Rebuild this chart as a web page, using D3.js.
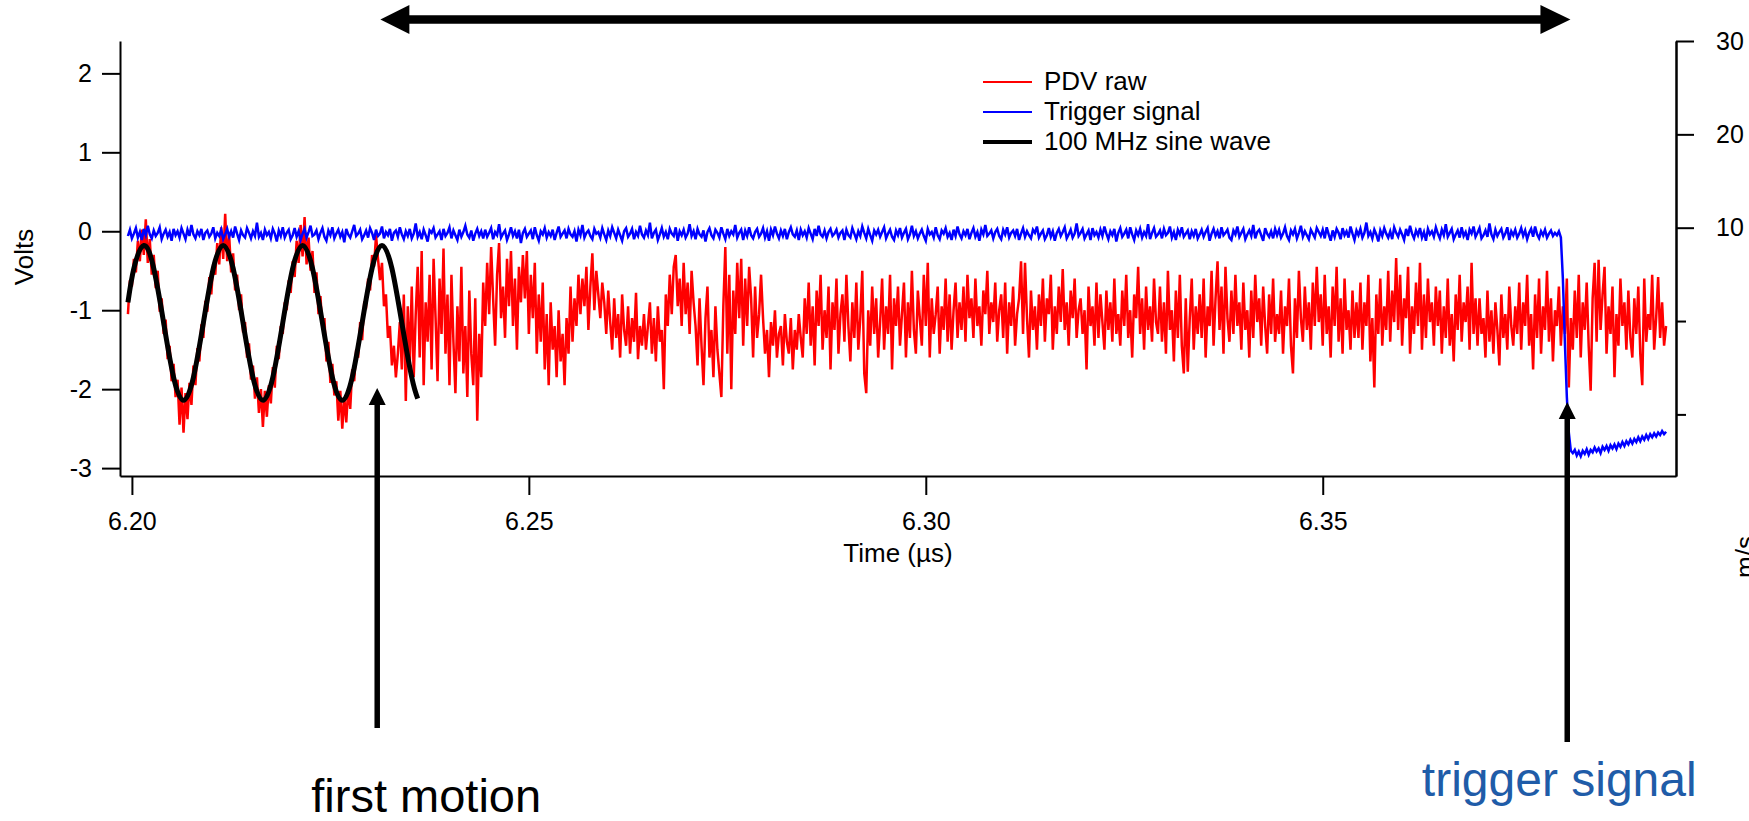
<!DOCTYPE html>
<html>
<head>
<meta charset="utf-8">
<script src="https://cdn.jsdelivr.net/npm/d3@7"></script>
<style>
  body { margin: 0; background: #fff; }
  text { font-family: "Liberation Sans", Arial, sans-serif; fill: #000; }
  .axis path, .axis line { stroke: #000; stroke-width: 2; }
  .axis text { font-size: 25px; }
</style>
</head>
<body>
<div id="chart"></div>
<script>
// PDV raw trace + trigger + fitted 100 MHz sine, Igor style plot

var svgWidth = 1749;
var svgHeight = 821;

// plot box (left axis, right axis, top, bottom axis)
var box = { left: 120, right: 1676, top: 41, bottom: 476 };

// ---- data ----
// time axis ticks (µs) and volt ticks
var timeTicks = [6.20, 6.25, 6.30, 6.35];
var voltTicks = [-3, -2, -1, 0, 1, 2];
var speedTicks = [30, 20, 10];
var speedMinorTicks = [0, -10];

// PDV raw (volts), sampled every 0.25 ns from 6.1995 µs
var redStart = 6.1995;
var redStep = 0.00025;
var redVolts = [
  -1.05,-0.62,-0.70,-0.35,-0.52,-0.12,-0.38,0.02,-0.30,0.15,-0.40,-0.10,-0.55,-0.30,-0.72,-0.50,-1.02,-0.85,-1.30,-1.12,
  -1.62,-1.45,-1.90,-1.68,-2.10,-1.88,-2.45,-1.98,-2.55,-2.05,-2.38,-1.92,-2.20,-1.70,-1.95,-1.48,-1.65,-1.18,-1.35,-0.88,
  -1.02,-0.58,-0.80,-0.40,-0.55,-0.15,-0.42,0.05,-0.35,0.22,-0.38,-0.05,-0.52,-0.28,-0.75,-0.55,-1.00,-0.80,-1.28,-1.15,
  -1.60,-1.42,-1.88,-1.70,-2.12,-1.85,-2.30,-2.00,-2.48,-2.02,-2.35,-1.95,-2.18,-1.72,-1.98,-1.45,-1.62,-1.20,-1.30,-0.90,
  -1.00,-0.62,-0.78,-0.38,-0.58,-0.12,-0.40,0.08,-0.32,0.18,-0.42,-0.08,-0.50,-0.25,-0.78,-0.52,-1.05,-0.82,-1.25,-1.10,
  -1.65,-1.40,-1.92,-1.68,-2.08,-1.90,-2.40,-2.02,-2.50,-2.10,-2.42,-1.98,-2.25,-1.75,-1.90,-1.50,-1.60,-1.15,-1.38,-0.92,
  -0.95,-0.60,-0.75,-0.30,-0.45,-0.05,-0.35,-0.62,-0.40,-0.95,-0.80,-1.35,-1.20,-1.70,-1.45,-1.85,-1.55,-1.15,-1.75,-0.80,
  -2.15,-0.95,-1.70,-0.70,-1.85,-1.05,-0.45,-1.60,-0.25,-1.95,-0.90,-1.40,-0.55,-1.75,-0.35,-1.10,-1.90,-0.60,-1.30,-0.22,
  -1.55,-0.80,-1.95,-0.55,-1.40,-2.05,-0.95,-1.65,-0.45,-1.80,-1.20,-2.10,-0.75,-1.55,-1.95,-0.85,-2.40,-1.30,-1.85,-0.65,
  -1.20,-0.40,-1.05,-0.20,-0.85,-1.45,-0.55,-0.15,-1.10,-0.70,-1.35,-0.35,-0.95,-0.25,-1.20,-0.60,-1.50,-0.45,-0.90,-0.30,
  -0.85,-0.25,-1.30,-0.55,-1.10,-0.40,-1.55,-0.80,-1.40,-0.65,-1.75,-1.05,-1.95,-0.90,-1.50,-1.20,-1.85,-1.00,-1.65,-1.30,
  -1.95,-1.10,-1.55,-0.70,-1.40,-0.85,-1.20,-0.55,-1.05,-0.60,-0.95,-0.45,-1.25,-0.70,-0.28,-1.00,-0.50,-0.80,-1.10,-0.65,
  -0.90,-1.30,-0.75,-1.15,-1.50,-0.85,-1.35,-1.05,-1.60,-0.80,-1.25,-1.45,-0.95,-1.55,-1.10,-1.40,-0.78,-1.62,-1.20,-1.45,
  -1.05,-1.50,-1.20,-0.90,-1.55,-1.10,-1.65,-0.95,-1.40,-1.25,-2.00,-0.80,-1.20,-0.55,-1.05,-0.45,-0.30,-0.95,-0.60,-1.20,
  -0.40,-1.05,-0.65,-1.30,-0.50,-0.90,-1.20,-1.70,-0.85,-1.45,-1.95,-1.10,-0.70,-1.60,-1.25,-1.85,-0.95,-1.50,-1.80,-2.10,
  -0.95,-0.20,-1.55,-0.55,-2.00,-0.75,-1.30,-0.40,-1.10,-0.35,-1.45,-0.60,-1.20,-0.45,-0.85,-1.60,-0.70,-1.35,-1.05,-0.55,
  -1.10,-1.55,-1.25,-1.85,-1.15,-1.45,-1.00,-1.60,-1.30,-1.20,-1.70,-1.05,-1.40,-1.55,-1.10,-1.75,-1.25,-1.50,-1.05,-1.35,
  -1.60,-0.85,-1.30,-0.65,-1.45,-0.95,-1.70,-0.75,-1.20,-0.55,-1.50,-1.00,-1.35,-0.70,-1.75,-0.90,-1.25,-0.60,-1.55,-1.05,
  -0.80,-1.40,-0.55,-1.20,-1.65,-0.90,-1.35,-0.65,-1.50,-1.10,-0.50,-1.80,-2.05,-1.00,-1.45,-0.70,-1.30,-0.85,-1.60,-1.15,
  -0.60,-1.50,-0.95,-1.30,-0.55,-1.75,-0.85,-1.20,-0.70,-1.45,-1.05,-0.65,-1.60,-0.90,-1.35,-0.50,-1.25,-1.55,-0.75,-1.10,
  -1.45,-0.55,-1.20,-0.40,-1.60,-0.85,-1.30,-1.05,-0.70,-1.55,-0.95,-1.25,-0.60,-1.40,-0.80,-1.50,-1.00,-0.65,-1.35,-0.90,
  -1.25,-0.70,-1.40,-0.55,-1.10,-0.85,-1.35,-0.60,-1.20,-0.95,-1.45,-0.75,-1.05,-0.50,-1.30,-0.90,-1.15,-0.65,-1.40,-1.00,
  -0.80,-1.35,-0.65,-1.55,-0.90,-1.20,-0.70,-1.45,-1.05,-0.85,-0.38,-1.30,-0.40,-1.10,-1.60,-0.75,-1.25,-0.95,-1.50,-0.80,
  -1.20,-0.60,-1.40,-0.85,-1.05,-0.55,-1.50,-0.95,-1.30,-0.70,-1.15,-0.48,-1.25,-0.90,-1.45,-0.75,-1.10,-0.60,-1.35,-1.00,
  -0.85,-1.30,-1.00,-1.75,-0.70,-1.20,-0.95,-1.45,-0.65,-1.35,-0.80,-1.15,-1.50,-0.75,-1.25,-0.90,-1.40,-0.60,-1.30,-1.05,
  -1.45,-0.75,-1.20,-0.55,-1.35,-1.00,-1.60,-0.80,-1.10,-0.45,-1.30,-0.85,-1.50,-0.70,-1.25,-0.95,-1.40,-0.60,-1.15,-1.30,
  -0.70,-1.40,-0.90,-1.55,-0.50,-1.25,-1.00,-1.65,-0.75,-1.35,-0.55,-1.45,-1.80,-0.85,-1.78,-1.10,-0.60,-1.50,-0.95,-1.30,
  -0.80,-1.35,-0.60,-1.60,-0.95,-1.20,-0.50,-1.45,-0.85,-0.38,-1.25,-0.70,-1.55,-0.45,-1.10,-1.40,-0.75,-1.30,-0.55,-1.20,
  -0.90,-1.50,-0.65,-1.25,-1.00,-1.60,-0.75,-1.35,-0.55,-1.15,-0.85,-1.45,-0.70,-1.20,-1.55,-0.80,-1.30,-0.60,-1.40,-1.05,
  -1.30,-0.75,-1.55,-0.95,-1.20,-0.60,-1.45,-1.80,-0.85,-1.35,-0.50,-1.10,-1.40,-0.70,-1.25,-0.90,-1.50,-0.65,-1.20,-0.45,
  -1.15,-0.80,-1.45,-0.55,-1.30,-0.95,-1.60,-0.70,-1.20,-0.45,-1.40,-0.85,-1.55,-0.60,-1.25,-1.00,-1.50,-0.75,-1.35,-0.90,
  -1.35,-0.65,-1.50,-0.90,-1.20,-0.55,-1.65,-1.10,-1.98,-0.80,-1.30,-0.60,-1.45,-0.95,-1.25,-0.50,-1.40,-0.75,-1.15,-0.34,
  -1.25,-0.55,-1.45,-0.85,-1.10,-0.45,-1.55,-0.95,-1.30,-0.65,-1.20,-0.40,-1.50,-0.80,-1.35,-0.60,-1.15,-0.90,-1.45,-0.70,
  -1.20,-0.75,-1.55,-0.95,-1.35,-0.60,-1.45,-1.05,-1.65,-0.80,-1.25,-0.55,-1.40,-0.90,-1.15,-0.70,-1.50,-0.40,-1.30,-0.85,
  -1.45,-0.85,-1.30,-1.10,-1.60,-0.75,-1.40,-1.00,-1.55,-0.90,-1.25,-1.70,-0.80,-1.35,-1.05,-1.50,-0.70,-1.20,-1.45,-0.95,
  -1.30,-0.65,-1.50,-0.90,-1.20,-0.55,-1.45,-1.05,-1.75,-0.80,-1.35,-0.60,-1.55,-0.95,-1.25,-0.50,-1.40,-0.85,-1.65,-1.00,
  -1.20,-0.70,-1.45,-0.95,-1.30,-0.60,-1.98,-1.10,-1.50,-0.75,-1.35,-0.55,-1.60,-0.90,-1.25,-0.65,-1.45,-2.02,-0.85,-0.40,
  -1.40,-0.36,-1.25,-0.80,-0.45,-1.55,-0.95,-1.30,-0.70,-1.85,-1.05,-1.45,-0.60,-1.20,-0.90,-1.50,-0.75,-1.35,-1.60,-0.85,
  -1.30,-0.70,-1.55,-1.95,-0.60,-1.40,-1.05,-1.25,-0.55,-1.50,-1.10,-0.58,-1.35,-0.90,-1.45,-1.20
];

// trigger signal (volts), same sampling
var blueStart = 6.1995;
var blueStep = 0.00025;
var blueVolts = [
  -0.06,0.02,-0.09,-0.03,0.04,-0.08,-0.01,-0.11,0.03,-0.05,0.07,-0.04,-0.09,0.01,-0.06,-0.02,0.05,-0.10,-0.03,0.02,
  -0.07,-0.01,-0.12,0.03,-0.05,0.00,-0.08,0.04,-0.03,-0.10,0.02,-0.06,0.08,-0.04,-0.09,0.00,-0.05,0.03,-0.11,-0.02,
  0.01,-0.07,-0.03,0.05,-0.09,-0.02,-0.06,0.02,-0.10,-0.04,0.03,-0.07,0.00,-0.08,0.06,-0.03,-0.11,0.01,-0.05,-0.08,
  0.04,-0.02,-0.09,0.00,-0.06,0.11,-0.07,-0.02,-0.11,0.02,-0.05,-0.01,-0.09,0.03,-0.03,-0.13,0.01,-0.06,0.05,-0.08,
  -0.02,0.02,-0.10,-0.05,0.04,-0.07,0.00,-0.11,-0.03,0.03,-0.08,-0.01,0.07,-0.06,-0.04,0.01,-0.10,-0.02,0.04,-0.07,
  -0.12,0.01,-0.05,0.05,-0.09,-0.03,0.02,-0.07,-0.01,-0.14,0.03,-0.04,-0.08,0.00,0.08,-0.06,-0.03,0.02,-0.10,-0.05,
  0.01,-0.08,0.04,-0.02,-0.11,0.02,-0.06,-0.03,0.06,-0.09,-0.01,-0.05,0.03,-0.12,-0.02,0.01,-0.07,0.05,-0.04,-0.10,
  0.00,-0.06,0.03,-0.09,-0.03,0.10,-0.07,-0.01,-0.10,0.02,-0.05,-0.13,0.01,-0.02,0.04,-0.08,-0.04,0.00,-0.11,0.03,
  -0.06,-0.02,0.05,-0.09,0.01,-0.05,-0.11,0.02,-0.07,-0.01,0.07,-0.04,-0.08,0.01,-0.12,-0.03,0.03,-0.06,0.00,-0.09,
  0.02,-0.07,-0.02,0.04,-0.10,-0.01,-0.05,0.09,-0.08,-0.03,0.01,-0.11,-0.04,0.05,-0.06,0.00,-0.09,0.02,-0.15,-0.02,
  0.03,-0.07,-0.03,0.01,-0.10,0.05,-0.05,-0.12,0.00,-0.04,0.04,-0.08,-0.01,-0.06,0.02,-0.11,-0.02,0.06,-0.07,-0.03,
  0.01,-0.09,0.03,-0.04,-0.07,0.00,-0.13,0.02,-0.05,0.08,-0.08,-0.02,0.01,-0.06,-0.10,0.03,-0.03,-0.01,-0.08,0.04,
  -0.04,-0.11,0.01,-0.06,0.05,-0.02,-0.09,0.02,-0.05,-0.12,0.00,0.04,-0.07,-0.03,0.03,-0.10,-0.01,-0.06,0.07,-0.04,
  -0.08,0.01,-0.05,0.11,-0.09,-0.02,0.02,-0.11,-0.04,0.04,-0.07,-0.01,-0.10,0.03,-0.03,-0.06,0.05,-0.12,0.00,-0.05,
  0.02,-0.08,-0.03,0.09,-0.06,0.00,-0.10,0.03,-0.04,-0.07,0.01,-0.13,-0.01,0.04,-0.05,-0.09,0.02,-0.02,-0.08,0.05,
  -0.03,-0.10,0.03,-0.06,0.00,-0.04,0.08,-0.08,-0.02,0.02,-0.11,0.01,-0.06,0.05,-0.05,-0.09,-0.01,0.03,-0.07,-0.03,
  0.04,-0.08,0.00,-0.12,0.02,-0.05,0.06,-0.03,-0.09,0.01,-0.06,0.03,-0.10,-0.01,0.05,-0.04,-0.07,0.01,-0.11,0.02,
  -0.05,0.00,-0.08,0.04,-0.03,-0.10,0.03,-0.06,0.07,-0.04,-0.07,0.01,-0.09,-0.01,0.03,-0.06,-0.03,0.02,-0.08,-0.02,
  0.01,-0.11,0.02,-0.05,-0.08,0.04,-0.03,-0.10,0.00,-0.06,0.06,-0.02,-0.09,0.03,-0.05,-0.12,0.01,-0.04,0.02,-0.07,
  -0.01,0.05,-0.09,-0.03,0.02,-0.07,-0.11,0.01,-0.05,0.04,-0.08,-0.02,0.03,-0.10,-0.04,0.07,-0.06,0.00,-0.09,-0.03,
  0.02,-0.06,-0.12,0.03,-0.04,-0.01,-0.08,0.05,-0.05,-0.10,0.01,-0.03,0.04,-0.07,-0.02,-0.11,0.02,-0.06,0.06,-0.04,
  -0.09,0.00,-0.05,0.03,-0.10,-0.02,0.04,-0.07,-0.01,-0.12,0.02,-0.04,0.08,-0.06,-0.03,0.01,-0.09,-0.01,0.03,-0.06,
  -0.10,0.02,-0.04,0.05,-0.08,-0.02,0.01,-0.06,0.03,-0.11,-0.03,0.04,-0.07,0.00,-0.05,-0.09,0.02,-0.02,0.06,-0.08,
  -0.03,0.01,-0.10,-0.05,0.04,-0.07,0.00,-0.12,-0.02,0.03,-0.06,-0.01,0.05,-0.09,-0.04,0.02,-0.08,-0.03,0.10,-0.06,
  -0.02,0.03,-0.09,-0.04,0.01,-0.11,0.04,-0.05,-0.01,-0.08,0.02,-0.06,0.06,-0.03,-0.10,0.00,-0.05,0.03,-0.13,-0.02,
  0.04,-0.07,-0.03,0.02,-0.09,0.05,-0.04,-0.11,0.01,-0.05,0.03,-0.08,-0.01,-0.06,0.09,-0.10,-0.02,0.04,-0.07,-0.04,
  0.01,-0.09,0.03,-0.05,-0.02,0.06,-0.08,-0.01,-0.11,0.02,-0.04,0.05,-0.07,-0.03,0.01,-0.10,0.00,-0.06,0.03,-0.09,
  -0.04,0.02,-0.07,-0.01,0.04,-0.12,-0.03,0.03,-0.06,0.00,-0.09,0.05,-0.05,-0.02,0.02,-0.08,-0.11,0.01,-0.04,0.06,
  -0.07,-0.02,0.03,-0.10,-0.04,0.01,-0.06,0.08,-0.09,-0.01,0.02,-0.05,-0.12,0.04,-0.03,-0.07,0.00,-0.09,0.03,-0.05,
  0.02,-0.08,-0.03,0.05,-0.06,-0.11,0.01,-0.04,0.03,-0.09,-0.02,0.07,-0.07,0.00,-0.05,-0.10,0.02,-0.03,-0.08,0.04,
  -0.01,-0.06,0.02,-0.09,0.05,-0.04,-0.12,0.01,-0.07,0.03,-0.02,-0.10,0.04,-0.05,0.00,-0.08,0.06,-0.03,-0.11,0.01,
  -0.05,0.03,-0.08,-0.02,0.11,-0.06,-0.01,-0.09,0.02,-0.04,-0.13,0.01,-0.06,0.04,-0.03,-0.08,0.00,-0.10,0.05,-0.02,
  -0.07,0.02,-0.04,-0.11,0.03,-0.06,0.07,-0.03,-0.09,0.01,-0.05,0.04,-0.08,-0.01,-0.12,0.03,-0.04,0.00,-0.07,0.05,
  -0.03,-0.09,0.02,-0.05,0.09,-0.07,-0.02,0.03,-0.10,-0.04,0.01,-0.08,0.05,-0.06,-0.01,-0.11,0.02,-0.03,0.06,-0.07,
  -0.02,0.04,-0.09,-0.05,0.01,-0.07,0.10,-0.04,-0.10,0.02,-0.06,-0.01,0.03,-0.08,-0.03,0.05,-0.11,0.00,-0.05,0.02,
  -0.08,-0.03,0.04,-0.06,0.01,-0.10,-0.02,0.03,-0.07,0.06,-0.04,-0.09,0.00,-0.05,0.02,-0.08,-0.03,0.01,-0.06,-0.02,
  -0.05,0.00,-0.08,
  // trigger fires
  -0.60,-1.40,-2.10,-2.55,-2.78,
  -2.81,-2.77,-2.84,-2.79,-2.85,-2.78,-2.82,-2.76,-2.83,-2.77,-2.80,-2.74,-2.79,-2.75,-2.81,-2.73,-2.77,-2.72,-2.78,-2.71,
  -2.75,-2.70,-2.76,-2.69,-2.73,-2.67,-2.72,-2.66,-2.70,-2.64,-2.69,-2.63,-2.67,-2.61,-2.66,-2.60,-2.64,-2.58,-2.63,-2.57,
  -2.61,-2.56,-2.60,-2.55,-2.58,-2.53,-2.57,-2.54
];

// 100 MHz sine wave fit, read at eighth-period points
var sineTimes = [6.1995,6.20025,6.2015,6.20275,6.2040,6.20525,6.2065,6.20775,6.2090,6.21025,
  6.2115,6.21275,6.2140,6.21525,6.2165,6.21775,6.2190,6.22025,6.2215,6.22275,
  6.2240,6.22525,6.2265,6.22775,6.2290,6.23025,6.2315,6.23275,6.2340,6.23525,6.2360];
var sineVolts = [-0.90,-0.47,-0.18,-0.47,-1.16,-1.85,-2.14,-1.85,-1.16,-0.47,
  -0.18,-0.47,-1.16,-1.85,-2.14,-1.85,-1.16,-0.47,-0.18,-0.47,
  -1.16,-1.85,-2.14,-1.85,-1.16,-0.47,-0.18,-0.47,-1.16,-1.85,-2.12];

// legend
var legendNames = ["PDV raw", "Trigger signal", "100 MHz sine wave"];
var legendColors = ["#ff0000", "#0000ff", "#000000"];
var legendWidths = [2, 2, 4];

// annotation times (µs)
var firstMotionT = 6.2309;
var triggerT = 6.3808;
var spanT = [6.2313, 6.3812];

// ---- svg ----
var svg = d3.select("#chart")
  .append("svg")
  .attr("width", svgWidth)
  .attr("height", svgHeight);

var x = d3.scaleLinear()
  .domain([6.1985, 6.3945])
  .range([box.left, box.right]);

var y = d3.scaleLinear()
  .domain([-3.1, 2.41])
  .range([box.bottom, box.top]);

// right axis in m/s
var yRight = d3.scaleLinear()
  .domain([-16.6, 30])
  .range([box.bottom, box.top]);

// axes
svg.append("g")
  .attr("class", "axis")
  .attr("transform", `translate(${box.left},0)`)
  .call(d3.axisLeft(y).tickValues(voltTicks).tickSize(18).tickSizeOuter(0).tickPadding(10)
    .tickFormat(d => String(d)));

svg.append("g")
  .attr("class", "axis")
  .attr("transform", `translate(0,${box.bottom})`)
  .call(d3.axisBottom(x).tickValues(timeTicks).tickSize(19).tickSizeOuter(0).tickPadding(17)
    .tickFormat(d3.format(".2f")));

svg.append("g")
  .attr("class", "axis")
  .attr("transform", `translate(${box.right},0)`)
  .call(d3.axisRight(yRight).tickValues(speedTicks).tickSize(18).tickSizeOuter(0).tickPadding(22));

svg.append("g")
  .attr("class", "axis")
  .attr("transform", `translate(${box.right},0)`)
  .call(d3.axisRight(yRight).tickValues(speedMinorTicks).tickSize(10).tickSizeOuter(0).tickFormat(""));

// axis titles
svg.append("text")
  .attr("transform", "translate(33,257) rotate(-90)")
  .attr("text-anchor", "middle")
  .style("font-size", "26px")
  .text("Volts");

svg.append("text")
  .attr("x", (box.left + box.right) / 2)
  .attr("y", 562)
  .attr("text-anchor", "middle")
  .style("font-size", "26px")
  .text("Time (µs)");

// right title sits mostly past the edge, like the original
svg.append("text")
  .attr("transform", "translate(1754,578) rotate(-90)")
  .attr("text-anchor", "start")
  .style("font-size", "26px")
  .text("m/s");

// traces
var redLine = d3.line()
  .x((d, i) => x(redStart + i * redStep))
  .y(d => y(d));

svg.append("path")
  .datum(redVolts)
  .attr("fill", "none")
  .attr("stroke", "#ff0000")
  .attr("stroke-width", 2.5)
  .attr("d", redLine);

var blueLine = d3.line()
  .x((d, i) => x(blueStart + i * blueStep))
  .y(d => y(d));

svg.append("path")
  .datum(blueVolts)
  .attr("fill", "none")
  .attr("stroke", "#0000ff")
  .attr("stroke-width", 2.5)
  .attr("d", blueLine);

var sineLine = d3.line()
  .x(d => x(d[0]))
  .y(d => y(d[1]))
  .curve(d3.curveNatural);

svg.append("path")
  .datum(d3.zip(sineTimes, sineVolts))
  .attr("fill", "none")
  .attr("stroke", "#000")
  .attr("stroke-width", 5)
  .attr("d", sineLine);

// legend
var legend = svg.append("g").attr("transform", "translate(983,82)");
legendNames.forEach(function(name, i) {
  legend.append("line")
    .attr("x1", 0).attr("x2", 49)
    .attr("y1", i * 30).attr("y2", i * 30)
    .attr("stroke", legendColors[i])
    .attr("stroke-width", legendWidths[i]);
  legend.append("text")
    .attr("x", 61)
    .attr("y", i * 30 + 8)
    .style("font-size", "26px")
    .text(name);
});

// ---- annotations ----
function upArrow(t, tipY, bottomY) {
  var ax = x(t);
  svg.append("line")
    .attr("x1", ax).attr("x2", ax)
    .attr("y1", tipY + 12).attr("y2", bottomY)
    .attr("stroke", "#000")
    .attr("stroke-width", 5.5);
  svg.append("path")
    .attr("d", `M${ax},${tipY} L${ax - 8.5},${tipY + 17} L${ax + 8.5},${tipY + 17} Z`)
    .attr("fill", "#000");
}

upArrow(firstMotionT, 388, 728);
upArrow(triggerT, 402, 742);

// double arrow on top
var xa = x(spanT[0]), xb = x(spanT[1]), ay = 19.5;
svg.append("line")
  .attr("x1", xa + 20).attr("x2", xb - 20)
  .attr("y1", ay).attr("y2", ay)
  .attr("stroke", "#000")
  .attr("stroke-width", 8.5);
svg.append("path")
  .attr("d", `M${xa},${ay} L${xa + 29},${ay - 14.5} L${xa + 29},${ay + 14.5} Z`)
  .attr("fill", "#000");
svg.append("path")
  .attr("d", `M${xb},${ay} L${xb - 30},${ay - 14.5} L${xb - 30},${ay + 14.5} Z`)
  .attr("fill", "#000");

svg.append("text")
  .attr("x", x(firstMotionT) + 49)
  .attr("y", 812)
  .attr("text-anchor", "middle")
  .style("font-size", "47px")
  .text("first motion");

svg.append("text")
  .attr("x", x(triggerT) - 8)
  .attr("y", 796)
  .attr("text-anchor", "middle")
  .style("font-size", "48px")
  .style("fill", "#1f5ca8")
  .text("trigger signal");
</script>
</body>
</html>
